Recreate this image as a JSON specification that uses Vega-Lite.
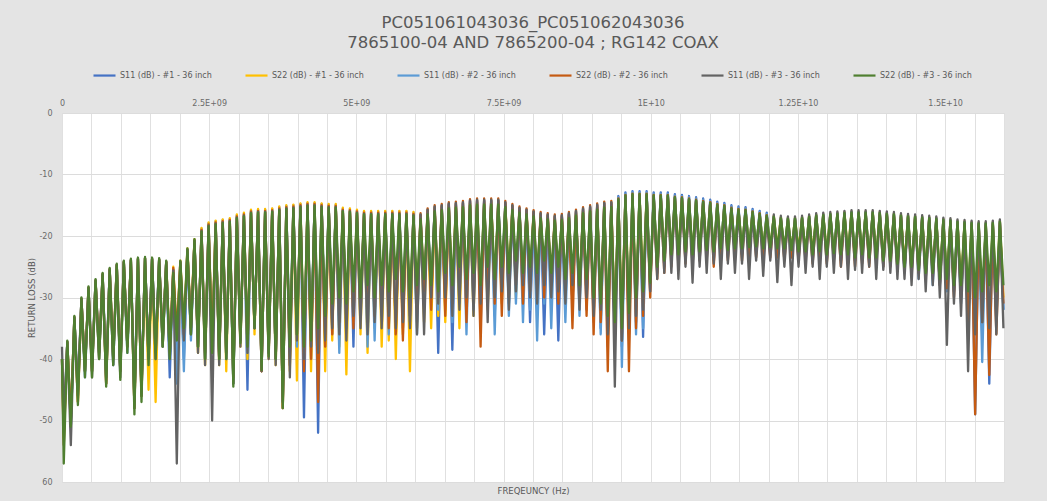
{
"$schema": "https://vega.github.io/schema/vega-lite/v6.json",
"width": 942, "height": 369,
"autosize": {"type": "none"},
"padding": {"left": 62, "top": 113, "right": 43, "bottom": 19},
"background": "#e4e4e4",
"title": {"text": ["PC051061043036_PC051062043036", "7865100-04 AND 7865200-04 ; RG142 COAX"], "font": "DejaVu Sans", "fontSize": 16.5, "fontWeight": "normal", "color": "#595959", "anchor": "middle", "frame": "group", "lineHeight": 20, "offset": 12},
"data": {"values": [
{"f":0,"a":-40,"b":-40,"c":-40,"d":-40,"e":-38,"g":-40},
{"f":0.03e9,"a":-52,"b":-53,"c":-52,"d":-54,"e":-50,"g":-57},
{"f":0.09e9,"a":-37.2,"b":-37.2,"c":-37.2,"d":-37.2,"e":-37.3,"g":-37},
{"f":0.15e9,"a":-50,"b":-50,"c":-51,"d":-50,"e":-54,"g":-51},
{"f":0.21e9,"a":-33.2,"b":-33.2,"c":-33.2,"d":-33.2,"e":-33.3,"g":-33},
{"f":0.27e9,"a":-46,"b":-47,"c":-46,"d":-47,"e":-45,"g":-47.5},
{"f":0.33e9,"a":-30.2,"b":-30.2,"c":-30.2,"d":-30.2,"e":-30.3,"g":-30},
{"f":0.39e9,"a":-42,"b":-42,"c":-43,"d":-42,"e":-42,"g":-43},
{"f":0.45e9,"a":-28.4,"b":-28.4,"c":-28.4,"d":-28.4,"e":-28.5,"g":-28.2},
{"f":0.51e9,"a":-42,"b":-42,"c":-41,"d":-42,"e":-43,"g":-43},
{"f":0.57e9,"a":-27.2,"b":-27.2,"c":-27.2,"d":-27.2,"e":-27.3,"g":-27},
{"f":0.63e9,"a":-39,"b":-40,"c":-40,"d":-39,"e":-40,"g":-40},
{"f":0.69e9,"a":-26.2,"b":-26.2,"c":-26.2,"d":-26.2,"e":-26.3,"g":-26},
{"f":0.75e9,"a":-43,"b":-44,"c":-43,"d":-44,"e":-44,"g":-44.5},
{"f":0.81e9,"a":-25.4,"b":-25.4,"c":-25.4,"d":-25.4,"e":-25.5,"g":-25.2},
{"f":0.87e9,"a":-40,"b":-40,"c":-41,"d":-40,"e":-41,"g":-41},
{"f":0.93e9,"a":-24.7,"b":-24.7,"c":-24.7,"d":-24.7,"e":-24.8,"g":-24.5},
{"f":0.99e9,"a":-42,"b":-42,"c":-42,"d":-42,"e":-43,"g":-43.4},
{"f":1.05e9,"a":-24.2,"b":-24.2,"c":-24.2,"d":-24.2,"e":-24.3,"g":-24},
{"f":1.11e9,"a":-38,"b":-38,"c":-39,"d":-38,"e":-38,"g":-39},
{"f":1.17e9,"a":-23.9,"b":-23.9,"c":-23.9,"d":-23.9,"e":-24,"g":-23.7},
{"f":1.23e9,"a":-47,"b":-48,"c":-47,"d":-48,"e":-48,"g":-49},
{"f":1.29e9,"a":-23.7,"b":-23.7,"c":-23.7,"d":-23.7,"e":-23.8,"g":-23.5},
{"f":1.35e9,"a":-45,"b":-46,"c":-45,"d":-46,"e":-46,"g":-47},
{"f":1.41e9,"a":-23.6,"b":-23.6,"c":-23.6,"d":-23.6,"e":-23.7,"g":-23.4},
{"f":1.47e9,"a":-40,"b":-45,"c":-40,"d":-40,"e":-40,"g":-41},
{"f":1.53e9,"a":-23.7,"b":-23.7,"c":-23.7,"d":-23.7,"e":-23.8,"g":-23.5},
{"f":1.59e9,"a":-39,"b":-47,"c":-40,"d":-40,"e":-39,"g":-40},
{"f":1.65e9,"a":-23.8,"b":-23.8,"c":-23.8,"d":-23.8,"e":-23.9,"g":-23.6},
{"f":1.71e9,"a":-37,"b":-38,"c":-38,"d":-37,"e":-38,"g":-38},
{"f":1.77e9,"a":-24.2,"b":-24.2,"c":-24.2,"d":-24.2,"e":-24.3,"g":-24},
{"f":1.83e9,"a":-43,"b":-39,"c":-40,"d":-39,"e":-40,"g":-40},
{"f":1.89e9,"a":-25.5,"b":-25,"c":-25.5,"d":-25.2,"e":-25.6,"g":-26},
{"f":1.95e9,"a":-38,"b":-37,"c":-44,"d":-36,"e":-57,"g":-37},
{"f":2.01e9,"a":-24.2,"b":-24,"c":-24.2,"d":-24.2,"e":-24.3,"g":-24},
{"f":2.07e9,"a":-40,"b":-36,"c":-42,"d":-36,"e":-37,"g":-35},
{"f":2.13e9,"a":-22.2,"b":-22,"c":-22.2,"d":-22.2,"e":-22.3,"g":-22},
{"f":2.19e9,"a":-36,"b":-35,"c":-37,"d":-35,"e":-36,"g":-36},
{"f":2.25e9,"a":-20.7,"b":-20.5,"c":-20.7,"d":-20.7,"e":-20.8,"g":-20.5},
{"f":2.31e9,"a":-38,"b":-39,"c":-38,"d":-38,"e":-39,"g":-38},
{"f":2.37e9,"a":-18.8,"b":-18.7,"c":-19.1,"d":-19,"e":-19.2,"g":-19.3},
{"f":2.43e9,"a":-40,"b":-41,"c":-40,"d":-39,"e":-41,"g":-40},
{"f":2.49e9,"a":-17.9,"b":-17.8,"c":-18.2,"d":-18.1,"e":-18.3,"g":-18.4},
{"f":2.55e9,"a":-39,"b":-38,"c":-39,"d":-38,"e":-50,"g":-39},
{"f":2.61e9,"a":-17.6,"b":-17.5,"c":-17.9,"d":-17.8,"e":-18,"g":-18.1},
{"f":2.67e9,"a":-40,"b":-41,"c":-40,"d":-40,"e":-41,"g":-40},
{"f":2.73e9,"a":-17.4,"b":-17.3,"c":-17.7,"d":-17.6,"e":-17.8,"g":-17.9},
{"f":2.79e9,"a":-40,"b":-42,"c":-40,"d":-39,"e":-40,"g":-40},
{"f":2.85e9,"a":-17.2,"b":-17.1,"c":-17.5,"d":-17.4,"e":-17.6,"g":-17.7},
{"f":2.91e9,"a":-44,"b":-44,"c":-44,"d":-43,"e":-44,"g":-44.5},
{"f":2.97e9,"a":-16.6,"b":-16.5,"c":-16.9,"d":-16.8,"e":-17,"g":-17.1},
{"f":3.03e9,"a":-37,"b":-38,"c":-37,"d":-37,"e":-38,"g":-37.4},
{"f":3.09e9,"a":-16.3,"b":-16.2,"c":-16.6,"d":-16.5,"e":-16.7,"g":-16.8},
{"f":3.15e9,"a":-45,"b":-40,"c":-39,"d":-38,"e":-39,"g":-38},
{"f":3.21e9,"a":-15.8,"b":-15.7,"c":-16.1,"d":-16,"e":-16.2,"g":-16.3},
{"f":3.27e9,"a":-35,"b":-36,"c":-35,"d":-35,"e":-35,"g":-35},
{"f":3.33e9,"a":-15.7,"b":-15.6,"c":-16,"d":-15.9,"e":-16.1,"g":-16.2},
{"f":3.39e9,"a":-42,"b":-42,"c":-41,"d":-42,"e":-42,"g":-41.8},
{"f":3.45e9,"a":-15.7,"b":-15.6,"c":-16,"d":-15.9,"e":-16.1,"g":-16.2},
{"f":3.51e9,"a":-39,"b":-40,"c":-39,"d":-39,"e":-40,"g":-39.6},
{"f":3.57e9,"a":-15.6,"b":-15.5,"c":-15.9,"d":-15.8,"e":-16,"g":-16.1},
{"f":3.63e9,"a":-40,"b":-41,"c":-40,"d":-40,"e":-41,"g":-40},
{"f":3.69e9,"a":-15.3,"b":-15.2,"c":-15.6,"d":-15.5,"e":-15.7,"g":-15.8},
{"f":3.75e9,"a":-48,"b":-48,"c":-47,"d":-48,"e":-47,"g":-48},
{"f":3.81e9,"a":-15.1,"b":-15,"c":-15.4,"d":-15.3,"e":-15.5,"g":-15.6},
{"f":3.87e9,"a":-40,"b":-42,"c":-39,"d":-41,"e":-43,"g":-38},
{"f":3.93e9,"a":-15,"b":-14.9,"c":-15.3,"d":-15.2,"e":-15.4,"g":-15.5},
{"f":3.99e9,"a":-38,"b":-43.5,"c":-38,"d":-36,"e":-37,"g":-36},
{"f":4.05e9,"a":-14.8,"b":-14.7,"c":-15.1,"d":-15,"e":-15.2,"g":-15.3},
{"f":4.11e9,"a":-49.5,"b":-39,"c":-40,"d":-42,"e":-40,"g":-38},
{"f":4.17e9,"a":-14.6,"b":-14.5,"c":-14.9,"d":-14.8,"e":-15,"g":-15.1},
{"f":4.23e9,"a":-40,"b":-42,"c":-38,"d":-40,"e":-38,"g":-37},
{"f":4.29e9,"a":-14.6,"b":-14.5,"c":-14.9,"d":-14.8,"e":-15,"g":-15.1},
{"f":4.35e9,"a":-52,"b":-40,"c":-38,"d":-47,"e":-39,"g":-35},
{"f":4.41e9,"a":-14.8,"b":-14.7,"c":-15.1,"d":-15,"e":-15.2,"g":-15.3},
{"f":4.47e9,"a":-38,"b":-42,"c":-36,"d":-38,"e":-37,"g":-33},
{"f":4.53e9,"a":-14.9,"b":-14.8,"c":-15.2,"d":-15.1,"e":-15.3,"g":-15.4},
{"f":4.59e9,"a":-36,"b":-37,"c":-34,"d":-36,"e":-35,"g":-31},
{"f":4.65e9,"a":-14.9,"b":-14.8,"c":-15.2,"d":-15.1,"e":-15.3,"g":-15.4},
{"f":4.71e9,"a":-35,"b":-38,"c":-39,"d":-34,"e":-36,"g":-30},
{"f":4.77e9,"a":-15.5,"b":-15.4,"c":-15.8,"d":-15.7,"e":-15.9,"g":-16},
{"f":4.83e9,"a":-36,"b":-42.5,"c":-35,"d":-34,"e":-37,"g":-31},
{"f":4.89e9,"a":-15.6,"b":-15.5,"c":-15.9,"d":-15.8,"e":-16,"g":-16.1},
{"f":4.95e9,"a":-38,"b":-33,"c":-34,"d":-35,"e":-33,"g":-29},
{"f":5.01e9,"a":-15.8,"b":-15.7,"c":-16.1,"d":-16,"e":-16.2,"g":-16.3},
{"f":5.07e9,"a":-34,"b":-36,"c":-33,"d":-32,"e":-35,"g":-30},
{"f":5.13e9,"a":-16,"b":-15.9,"c":-16.3,"d":-16.2,"e":-16.4,"g":-16.5},
{"f":5.19e9,"a":-37,"b":-39,"c":-38,"d":-34,"e":-36,"g":-28},
{"f":5.25e9,"a":-16,"b":-15.9,"c":-16.3,"d":-16.2,"e":-16.4,"g":-16.5},
{"f":5.31e9,"a":-33,"b":-35,"c":-37,"d":-33,"e":-34,"g":-30},
{"f":5.37e9,"a":-16,"b":-15.9,"c":-16.3,"d":-16.2,"e":-16.4,"g":-16.5},
{"f":5.43e9,"a":-35,"b":-38,"c":-33,"d":-32,"e":-35,"g":-28},
{"f":5.49e9,"a":-16,"b":-15.9,"c":-16.3,"d":-16.2,"e":-16.4,"g":-16.5},
{"f":5.55e9,"a":-34,"b":-37,"c":-36,"d":-35,"e":-33,"g":-29},
{"f":5.61e9,"a":-16,"b":-15.9,"c":-16.3,"d":-16.2,"e":-16.4,"g":-16.5},
{"f":5.67e9,"a":-36,"b":-40,"c":-34,"d":-36,"e":-35,"g":-27},
{"f":5.73e9,"a":-16,"b":-15.9,"c":-16.3,"d":-16.2,"e":-16.4,"g":-16.5},
{"f":5.79e9,"a":-33,"b":-36,"c":-35,"d":-37,"e":-34,"g":-29},
{"f":5.85e9,"a":-16,"b":-15.9,"c":-16.3,"d":-16.2,"e":-16.4,"g":-16.5},
{"f":5.91e9,"a":-36,"b":-42,"c":-34,"d":-33,"e":-35,"g":-30},
{"f":5.97e9,"a":-16.2,"b":-16.1,"c":-16.5,"d":-16.4,"e":-16.6,"g":-16.7},
{"f":6.03e9,"a":-34,"b":-35,"c":-36,"d":-32,"e":-36,"g":-28},
{"f":6.09e9,"a":-16.6,"b":-16.9,"c":-16.7,"d":-16.3,"e":-16.5,"g":-17.3},
{"f":6.15e9,"a":-30,"b":-34,"c":-31,"d":-29,"e":-36,"g":-27},
{"f":6.21e9,"a":-15.8,"b":-16.1,"c":-15.9,"d":-15.5,"e":-15.7,"g":-16.5},
{"f":6.27e9,"a":-31,"b":-35,"c":-30,"d":-32,"e":-30,"g":-28},
{"f":6.33e9,"a":-15.3,"b":-15.6,"c":-15.4,"d":-15,"e":-15.2,"g":-16},
{"f":6.39e9,"a":-39,"b":-33,"c":-32,"d":-30,"e":-31,"g":-29},
{"f":6.45e9,"a":-15.1,"b":-15.4,"c":-15.2,"d":-14.8,"e":-15,"g":-15.8},
{"f":6.51e9,"a":-32,"b":-34,"c":-31,"d":-33,"e":-30,"g":-26},
{"f":6.57e9,"a":-14.8,"b":-15.1,"c":-14.9,"d":-14.5,"e":-14.7,"g":-15.5},
{"f":6.63e9,"a":-38.5,"b":-32,"c":-34,"d":-31,"e":-33,"g":-28},
{"f":6.69e9,"a":-14.7,"b":-15,"c":-14.8,"d":-14.4,"e":-14.6,"g":-15.4},
{"f":6.75e9,"a":-30,"b":-35,"c":-31,"d":-29,"e":-32,"g":-25},
{"f":6.81e9,"a":-14.6,"b":-14.9,"c":-14.7,"d":-14.3,"e":-14.5,"g":-15.3},
{"f":6.87e9,"a":-33,"b":-31,"c":-36,"d":-34,"e":-30,"g":-27},
{"f":6.93e9,"a":-14.3,"b":-14.6,"c":-14.4,"d":-14,"e":-14.2,"g":-15},
{"f":6.99e9,"a":-31,"b":-33,"c":-32,"d":-30,"e":-33,"g":-26},
{"f":7.05e9,"a":-14.2,"b":-14.5,"c":-14.3,"d":-13.9,"e":-14.1,"g":-14.9},
{"f":7.11e9,"a":-32,"b":-30,"c":-35,"d":-38,"e":-31,"g":-28},
{"f":7.17e9,"a":-14.2,"b":-14.5,"c":-14.3,"d":-13.9,"e":-14.1,"g":-14.9},
{"f":7.23e9,"a":-30,"b":-32,"c":-31,"d":-29,"e":-34,"g":-25},
{"f":7.29e9,"a":-14.2,"b":-14.5,"c":-14.3,"d":-13.9,"e":-14.1,"g":-14.9},
{"f":7.35e9,"a":-33,"b":-29,"c":-36,"d":-31,"e":-30,"g":-27},
{"f":7.41e9,"a":-14.2,"b":-14.5,"c":-14.3,"d":-13.9,"e":-14.1,"g":-14.9},
{"f":7.47e9,"a":-29,"b":-31,"c":-30,"d":-33,"e":-29,"g":-25},
{"f":7.53e9,"a":-14.6,"b":-14.9,"c":-14.7,"d":-14.3,"e":-14.5,"g":-15.3},
{"f":7.59e9,"a":-31,"b":-28,"c":-33,"d":-30,"e":-32,"g":-26},
{"f":7.65e9,"a":-15.1,"b":-15.4,"c":-15.2,"d":-14.8,"e":-15,"g":-15.8},
{"f":7.71e9,"a":-28,"b":-30,"c":-31,"d":-28,"e":-29,"g":-24},
{"f":7.77e9,"a":-15.5,"b":-15.8,"c":-15.6,"d":-15.2,"e":-15.4,"g":-16.2},
{"f":7.83e9,"a":-30,"b":-29,"c":-34,"d":-31,"e":-28,"g":-26},
{"f":7.89e9,"a":-15.8,"b":-16.1,"c":-15.9,"d":-15.5,"e":-15.7,"g":-16.5},
{"f":7.95e9,"a":-34,"b":-28,"c":-32,"d":-29,"e":-30,"g":-25},
{"f":8.01e9,"a":-16.1,"b":-16.4,"c":-16.2,"d":-15.8,"e":-16,"g":-16.8},
{"f":8.07e9,"a":-29,"b":-30,"c":-37,"d":-28,"e":-31,"g":-26},
{"f":8.13e9,"a":-16.4,"b":-16.7,"c":-16.5,"d":-16.1,"e":-16.3,"g":-17.1},
{"f":8.19e9,"a":-36,"b":-27,"c":-31,"d":-30,"e":-28,"g":-24},
{"f":8.25e9,"a":-16.6,"b":-16.9,"c":-16.7,"d":-16.3,"e":-16.5,"g":-17.3},
{"f":8.31e9,"a":-30,"b":-29,"c":-35,"d":-28,"e":-30,"g":-26},
{"f":8.37e9,"a":-16.8,"b":-17.1,"c":-16.9,"d":-16.5,"e":-16.7,"g":-17.5},
{"f":8.43e9,"a":-37,"b":-28,"c":-30,"d":-31,"e":-29,"g":-25},
{"f":8.49e9,"a":-16.7,"b":-17,"c":-16.8,"d":-16.4,"e":-16.6,"g":-17.4},
{"f":8.55e9,"a":-29,"b":-30,"c":-34,"d":-29,"e":-31,"g":-27},
{"f":8.61e9,"a":-16.4,"b":-16.7,"c":-16.5,"d":-16.1,"e":-16.3,"g":-17.1},
{"f":8.67e9,"a":-31,"b":-29,"c":-31,"d":-35,"e":-28,"g":-26},
{"f":8.73e9,"a":-16,"b":-16.3,"c":-16.1,"d":-15.7,"e":-15.9,"g":-16.7},
{"f":8.79e9,"a":-30,"b":-31,"c":-33,"d":-30,"e":-32,"g":-28},
{"f":8.85e9,"a":-15.6,"b":-15.9,"c":-15.7,"d":-15.3,"e":-15.5,"g":-16.3},
{"f":8.91e9,"a":-32,"b":-29,"c":-30,"d":-33,"e":-30,"g":-27},
{"f":8.97e9,"a":-15.3,"b":-15.6,"c":-15.4,"d":-15,"e":-15.2,"g":-16},
{"f":9.03e9,"a":-31,"b":-32,"c":-34,"d":-36,"e":-33,"g":-30},
{"f":9.09e9,"a":-15,"b":-15.3,"c":-15.1,"d":-14.7,"e":-14.9,"g":-15.7},
{"f":9.15e9,"a":-35,"b":-33,"c":-36,"d":-34,"e":-32,"g":-31},
{"f":9.21e9,"a":-14.7,"b":-15,"c":-14.8,"d":-14.4,"e":-14.6,"g":-15.4},
{"f":9.27e9,"a":-37,"b":-34,"c":-38,"d":-42,"e":-36,"g":-33},
{"f":9.33e9,"a":-14.6,"b":-14.9,"c":-14.7,"d":-14.3,"e":-14.5,"g":-15.3},
{"f":9.39e9,"a":-36,"b":-35,"c":-37,"d":-36,"e":-44.5,"g":-34},
{"f":9.45e9,"a":-13.5,"b":-14,"c":-13.7,"d":-13.9,"e":-14.1,"g":-14},
{"f":9.51e9,"a":-38,"b":-35,"c":-41.3,"d":-37,"e":-37,"g":-35},
{"f":9.57e9,"a":-12.9,"b":-13.4,"c":-13.1,"d":-13.3,"e":-13.5,"g":-13.4},
{"f":9.63e9,"a":-36,"b":-33,"c":-37,"d":-42,"e":-35,"g":-32.5},
{"f":9.69e9,"a":-12.7,"b":-13.2,"c":-12.9,"d":-13.1,"e":-13.3,"g":-13.2},
{"f":9.75e9,"a":-34,"b":-31,"c":-36,"d":-35,"e":-33,"g":-30},
{"f":9.81e9,"a":-12.7,"b":-13.2,"c":-12.9,"d":-13.1,"e":-13.3,"g":-13.2},
{"f":9.87e9,"a":-36.4,"b":-30,"c":-35,"d":-33,"e":-32,"g":-29},
{"f":9.93e9,"a":-12.7,"b":-13.2,"c":-12.9,"d":-13.1,"e":-13.3,"g":-13.2},
{"f":9.99e9,"a":-29,"b":-28,"c":-28,"d":-30,"e":-29,"g":-27.6},
{"f":10.05e9,"a":-12.9,"b":-13.4,"c":-13.1,"d":-13.3,"e":-13.5,"g":-13.4},
{"f":10.11e9,"a":-26,"b":-25,"c":-26,"d":-27,"e":-27,"g":-25},
{"f":10.17e9,"a":-12.9,"b":-13.4,"c":-13.1,"d":-13.3,"e":-13.5,"g":-13.4},
{"f":10.23e9,"a":-25,"b":-24,"c":-25,"d":-26,"e":-26,"g":-24},
{"f":10.29e9,"a":-12.9,"b":-13.4,"c":-13.1,"d":-13.3,"e":-13.5,"g":-13.4},
{"f":10.35e9,"a":-24,"b":-23.5,"c":-24,"d":-25,"e":-26,"g":-23},
{"f":10.41e9,"a":-13.2,"b":-13.7,"c":-13.4,"d":-13.6,"e":-13.8,"g":-13.7},
{"f":10.47e9,"a":-24,"b":-23,"c":-24,"d":-25,"e":-27,"g":-23},
{"f":10.53e9,"a":-13.3,"b":-13.8,"c":-13.5,"d":-13.7,"e":-13.9,"g":-13.8},
{"f":10.59e9,"a":-23.5,"b":-23,"c":-24,"d":-24.5,"e":-25,"g":-22.5},
{"f":10.65e9,"a":-13.5,"b":-14,"c":-13.7,"d":-13.9,"e":-14.1,"g":-14},
{"f":10.71e9,"a":-24,"b":-23.5,"c":-24.5,"d":-25,"e":-27.6,"g":-23},
{"f":10.77e9,"a":-13.7,"b":-14.2,"c":-13.9,"d":-14.1,"e":-14.3,"g":-14.2},
{"f":10.83e9,"a":-23.5,"b":-23,"c":-24,"d":-24,"e":-25,"g":-22.5},
{"f":10.89e9,"a":-13.9,"b":-14.4,"c":-14.1,"d":-14.3,"e":-14.5,"g":-14.4},
{"f":10.95e9,"a":-23,"b":-22.5,"c":-23.5,"d":-24,"e":-26,"g":-22.3},
{"f":11.01e9,"a":-14.1,"b":-14.6,"c":-14.3,"d":-14.5,"e":-14.7,"g":-14.6},
{"f":11.07e9,"a":-23.5,"b":-23,"c":-24,"d":-25,"e":-24.5,"g":-22.5},
{"f":11.13e9,"a":-14.4,"b":-14.9,"c":-14.6,"d":-14.8,"e":-15,"g":-14.9},
{"f":11.19e9,"a":-23,"b":-22.5,"c":-23,"d":-24,"e":-27,"g":-22},
{"f":11.25e9,"a":-14.6,"b":-15.1,"c":-14.8,"d":-15,"e":-15.2,"g":-15.1},
{"f":11.31e9,"a":-23,"b":-22.5,"c":-23.5,"d":-24,"e":-24.5,"g":-22.3},
{"f":11.37e9,"a":-15,"b":-15.5,"c":-15.2,"d":-15.4,"e":-15.6,"g":-15.5},
{"f":11.43e9,"a":-22.5,"b":-22.5,"c":-23,"d":-23.5,"e":-26,"g":-22},
{"f":11.49e9,"a":-15.2,"b":-15.7,"c":-15.4,"d":-15.6,"e":-15.8,"g":-15.7},
{"f":11.55e9,"a":-23,"b":-22,"c":-23,"d":-24,"e":-24.5,"g":-22},
{"f":11.61e9,"a":-15.3,"b":-15.8,"c":-15.5,"d":-15.7,"e":-15.9,"g":-15.8},
{"f":11.67e9,"a":-22.5,"b":-22,"c":-23,"d":-23.5,"e":-27,"g":-21.8},
{"f":11.73e9,"a":-15.6,"b":-16.1,"c":-15.8,"d":-16,"e":-16.2,"g":-16.1},
{"f":11.79e9,"a":-22.5,"b":-22,"c":-22.5,"d":-23.5,"e":-24,"g":-21.7},
{"f":11.85e9,"a":-15.9,"b":-16.4,"c":-16.1,"d":-16.3,"e":-16.5,"g":-16.4},
{"f":11.91e9,"a":-22.5,"b":-22,"c":-23,"d":-24,"e":-26.5,"g":-22},
{"f":11.97e9,"a":-16.2,"b":-16.7,"c":-16.4,"d":-16.6,"e":-16.8,"g":-16.7},
{"f":12.03e9,"a":-22.5,"b":-22,"c":-22.5,"d":-23.5,"e":-24,"g":-21.8},
{"f":12.09e9,"a":-16.8,"b":-16.7,"c":-16.8,"d":-17.1,"e":-16.5,"g":-16.9},
{"f":12.15e9,"a":-22.5,"b":-22,"c":-23,"d":-23.5,"e":-27.5,"g":-22},
{"f":12.21e9,"a":-17,"b":-16.9,"c":-17,"d":-17.3,"e":-16.7,"g":-17.1},
{"f":12.27e9,"a":-22.5,"b":-22.5,"c":-23,"d":-24,"e":-25,"g":-22},
{"f":12.33e9,"a":-17.1,"b":-17,"c":-17.1,"d":-17.4,"e":-16.8,"g":-17.2},
{"f":12.39e9,"a":-23,"b":-22.5,"c":-23,"d":-23.5,"e":-28,"g":-22.3},
{"f":12.45e9,"a":-17.1,"b":-17,"c":-17.1,"d":-17.4,"e":-16.8,"g":-17.2},
{"f":12.51e9,"a":-23,"b":-22.5,"c":-23.5,"d":-24,"e":-25,"g":-22.5},
{"f":12.57e9,"a":-17,"b":-16.9,"c":-17,"d":-17.3,"e":-16.7,"g":-17.1},
{"f":12.63e9,"a":-23,"b":-23,"c":-23.5,"d":-24,"e":-26,"g":-22.5},
{"f":12.69e9,"a":-16.8,"b":-16.7,"c":-16.8,"d":-17.1,"e":-16.5,"g":-16.9},
{"f":12.75e9,"a":-23.5,"b":-23,"c":-24,"d":-24.5,"e":-25,"g":-23},
{"f":12.81e9,"a":-16.6,"b":-16.5,"c":-16.6,"d":-16.9,"e":-16.3,"g":-16.7},
{"f":12.87e9,"a":-23,"b":-23,"c":-23.5,"d":-24,"e":-27,"g":-22.5},
{"f":12.93e9,"a":-16.5,"b":-16.4,"c":-16.5,"d":-16.8,"e":-16.2,"g":-16.6},
{"f":12.99e9,"a":-23.5,"b":-23,"c":-24,"d":-24.5,"e":-25,"g":-23},
{"f":13.05e9,"a":-16.4,"b":-16.3,"c":-16.4,"d":-16.7,"e":-16.1,"g":-16.5},
{"f":13.11e9,"a":-23,"b":-23.5,"c":-23.5,"d":-24,"e":-26,"g":-22.8},
{"f":13.17e9,"a":-16.3,"b":-16.2,"c":-16.3,"d":-16.6,"e":-16,"g":-16.4},
{"f":13.23e9,"a":-24,"b":-23.5,"c":-24,"d":-25,"e":-25,"g":-23},
{"f":13.29e9,"a":-16.2,"b":-16.1,"c":-16.2,"d":-16.5,"e":-15.9,"g":-16.3},
{"f":13.35e9,"a":-23.5,"b":-23,"c":-24,"d":-24.5,"e":-27,"g":-23},
{"f":13.41e9,"a":-16.1,"b":-16,"c":-16.1,"d":-16.4,"e":-15.8,"g":-16.2},
{"f":13.47e9,"a":-24,"b":-24,"c":-24,"d":-25,"e":-25.5,"g":-23.5},
{"f":13.53e9,"a":-16.1,"b":-16,"c":-16.1,"d":-16.4,"e":-15.8,"g":-16.2},
{"f":13.59e9,"a":-23.5,"b":-23.5,"c":-24,"d":-24.5,"e":-26,"g":-23},
{"f":13.65e9,"a":-16.1,"b":-16,"c":-16.1,"d":-16.4,"e":-15.8,"g":-16.2},
{"f":13.71e9,"a":-24,"b":-24,"c":-24.5,"d":-25,"e":-25,"g":-23.5},
{"f":13.77e9,"a":-16.1,"b":-16,"c":-16.1,"d":-16.4,"e":-15.8,"g":-16.2},
{"f":13.83e9,"a":-24,"b":-23.5,"c":-24,"d":-24.5,"e":-27,"g":-23.5},
{"f":13.89e9,"a":-16.2,"b":-16.1,"c":-16.2,"d":-16.5,"e":-15.9,"g":-16.3},
{"f":13.95e9,"a":-24.5,"b":-24,"c":-25,"d":-25,"e":-25.5,"g":-24},
{"f":14.01e9,"a":-16.3,"b":-16.2,"c":-16.3,"d":-16.6,"e":-16,"g":-16.4},
{"f":14.07e9,"a":-24,"b":-24,"c":-24.5,"d":-25,"e":-26,"g":-24},
{"f":14.13e9,"a":-16.4,"b":-16.3,"c":-16.4,"d":-16.7,"e":-16.1,"g":-16.5},
{"f":14.19e9,"a":-25,"b":-24.5,"c":-25,"d":-25.5,"e":-27,"g":-24.5},
{"f":14.25e9,"a":-16.6,"b":-16.5,"c":-16.6,"d":-16.9,"e":-16.3,"g":-16.7},
{"f":14.31e9,"a":-25.5,"b":-25,"c":-26,"d":-25.5,"e":-27,"g":-25},
{"f":14.37e9,"a":-16.7,"b":-16.6,"c":-16.7,"d":-17,"e":-16.4,"g":-16.8},
{"f":14.43e9,"a":-26,"b":-25.5,"c":-26,"d":-26.5,"e":-28,"g":-25},
{"f":14.49e9,"a":-16.8,"b":-16.7,"c":-16.8,"d":-17.1,"e":-16.5,"g":-16.9},
{"f":14.55e9,"a":-25.5,"b":-26,"c":-27,"d":-26,"e":-27,"g":-25.5},
{"f":14.61e9,"a":-16.9,"b":-16.8,"c":-16.9,"d":-17.2,"e":-16.6,"g":-17},
{"f":14.67e9,"a":-27,"b":-26,"c":-26.5,"d":-27,"e":-29,"g":-26},
{"f":14.73e9,"a":-17,"b":-16.9,"c":-17,"d":-17.3,"e":-16.7,"g":-17.1},
{"f":14.79e9,"a":-26.5,"b":-27,"c":-28,"d":-26.5,"e":-28,"g":-26},
{"f":14.85e9,"a":-17.1,"b":-17,"c":-17.1,"d":-17.4,"e":-16.8,"g":-17.2},
{"f":14.91e9,"a":-28,"b":-27,"c":-27.5,"d":-28,"e":-30,"g":-27},
{"f":14.97e9,"a":-17.3,"b":-17.2,"c":-17.3,"d":-17.6,"e":-17,"g":-17.4},
{"f":15.03e9,"a":-28,"b":-28,"c":-29,"d":-28.5,"e":-37.7,"g":-27},
{"f":15.09e9,"a":-17.4,"b":-17.3,"c":-17.4,"d":-17.7,"e":-17.1,"g":-17.5},
{"f":15.15e9,"a":-29,"b":-28.5,"c":-28,"d":-30,"e":-31,"g":-28},
{"f":15.21e9,"a":-17.6,"b":-17.5,"c":-17.6,"d":-17.9,"e":-17.3,"g":-17.7},
{"f":15.27e9,"a":-30,"b":-29,"c":-31,"d":-30,"e":-33,"g":-28},
{"f":15.33e9,"a":-17.7,"b":-17.6,"c":-17.7,"d":-18,"e":-17.4,"g":-17.8},
{"f":15.39e9,"a":-33,"b":-31,"c":-32,"d":-35,"e":-42,"g":-29},
{"f":15.45e9,"a":-17.8,"b":-17.7,"c":-17.8,"d":-18.1,"e":-17.5,"g":-17.9},
{"f":15.51e9,"a":-49,"b":-34,"c":-33,"d":-49,"e":-36,"g":-30},
{"f":15.57e9,"a":-17.9,"b":-17.8,"c":-17.9,"d":-18.2,"e":-17.6,"g":-18},
{"f":15.63e9,"a":-36,"b":-35,"c":-40.5,"d":-34,"e":-34,"g":-29},
{"f":15.69e9,"a":-17.9,"b":-17.8,"c":-17.9,"d":-18.2,"e":-17.6,"g":-18},
{"f":15.75e9,"a":-44,"b":-33,"c":-35,"d":-42.6,"e":-35,"g":-28},
{"f":15.81e9,"a":-17.8,"b":-17.7,"c":-17.8,"d":-18.1,"e":-17.5,"g":-17.9},
{"f":15.87e9,"a":-34,"b":-31,"c":-33,"d":-36,"e":-36,"g":-29},
{"f":15.93e9,"a":-17.6,"b":-17.5,"c":-17.6,"d":-17.9,"e":-17.3,"g":-17.7},
{"f":15.99e9,"a":-32,"b":-30,"c":-32,"d":-31,"e":-35,"g":-28}
]},
"transform": [
{"fold": ["a", "b", "c", "d", "e", "g"], "as": ["k", "v"]},
{"lookup": "k", "from": {"data": {"values": [
{"k": "a", "s": "S11 (dB) - #1 - 36 inch"},
{"k": "b", "s": "S22 (dB) - #1 - 36 inch"},
{"k": "c", "s": "S11 (dB) - #2 - 36 inch"},
{"k": "d", "s": "S22 (dB) - #2 - 36 inch"},
{"k": "e", "s": "S11 (dB) - #3 - 36 inch"},
{"k": "g", "s": "S22 (dB) - #3 - 36 inch"}]}, "key": "k", "fields": ["s"]}}
],
"mark": {"type": "line", "strokeWidth": 2.3, "strokeJoin": "round"},
"encoding": {
"x": {"field": "f", "type": "quantitative",
 "scale": {"domain": [0, 16000000000], "nice": false, "zero": false},
 "axis": {"orient": "top", "values": [0,5e8,1e9,1.5e9,2e9,2.5e9,3e9,3.5e9,4e9,4.5e9,5e9,5.5e9,6e9,6.5e9,7e9,7.5e9,8e9,8.5e9,9e9,9.5e9,1e10,1.05e10,1.1e10,1.15e10,1.2e10,1.25e10,1.3e10,1.35e10,1.4e10,1.45e10,1.5e10,1.55e10,1.6e10],
  "labelExpr": "datum.value==0?'0':datum.value==2.5e9?'2.5E+09':datum.value==5e9?'5E+09':datum.value==7.5e9?'7.5E+09':datum.value==1e10?'1E+10':datum.value==1.25e10?'1.25E+10':datum.value==1.5e10?'1.5E+10':''",
  "grid": true, "gridColor": "#e0e0e0", "ticks": false, "domain": false, "labelOverlap": false, "labelFlush": false,
  "labelFont": "DejaVu Sans", "labelFontSize": 8, "labelColor": "#6a6a6a", "labelPadding": 6,
  "title": "FREQEUNCY (Hz)", "titleFont": "DejaVu Sans", "titleFontSize": 8.5, "titleFontWeight": "normal", "titleColor": "#595959",
  "titleX": 471, "titleY": 377, "titleBaseline": "middle", "titleAlign": "center"}},
"y": {"field": "v", "type": "quantitative",
 "scale": {"domain": [-60, 0], "nice": false},
 "axis": {"values": [-60,-50,-40,-30,-20,-10,0], "labelExpr": "datum.value==-60?'60':''+datum.value",
  "grid": true, "gridColor": "#dcdcdc", "ticks": false, "domain": false,
  "labelFont": "DejaVu Sans", "labelFontSize": 8, "labelColor": "#6a6a6a", "labelPadding": 10,
  "title": "RETURN LOSS (dB)", "titleFont": "DejaVu Sans", "titleFontSize": 8.5, "titleFontWeight": "normal", "titleColor": "#595959", "titlePadding": 2}},
"color": {"field": "s", "type": "nominal",
 "scale": {"domain": ["S11 (dB) - #1 - 36 inch", "S22 (dB) - #1 - 36 inch", "S11 (dB) - #2 - 36 inch", "S22 (dB) - #2 - 36 inch", "S11 (dB) - #3 - 36 inch", "S22 (dB) - #3 - 36 inch"],
  "range": ["#4472c4", "#ffc000", "#5b9bd5", "#c55a11", "#636363", "#4f7f30"]},
 "legend": {"orient": "none", "legendX": 30, "legendY": -50, "direction": "horizontal", "columns": 6, "gridAlign": "all", "columnPadding": 29,
  "symbolType": "stroke", "symbolSize": 484, "symbolStrokeWidth": 2.2, "labelFont": "DejaVu Sans", "labelFontSize": 8, "labelColor": "#595959", "labelOffset": 3, "title": null}}
},
"config": {"view": {"fill": "#ffffff", "stroke": "#d9d9d9"}}
}
